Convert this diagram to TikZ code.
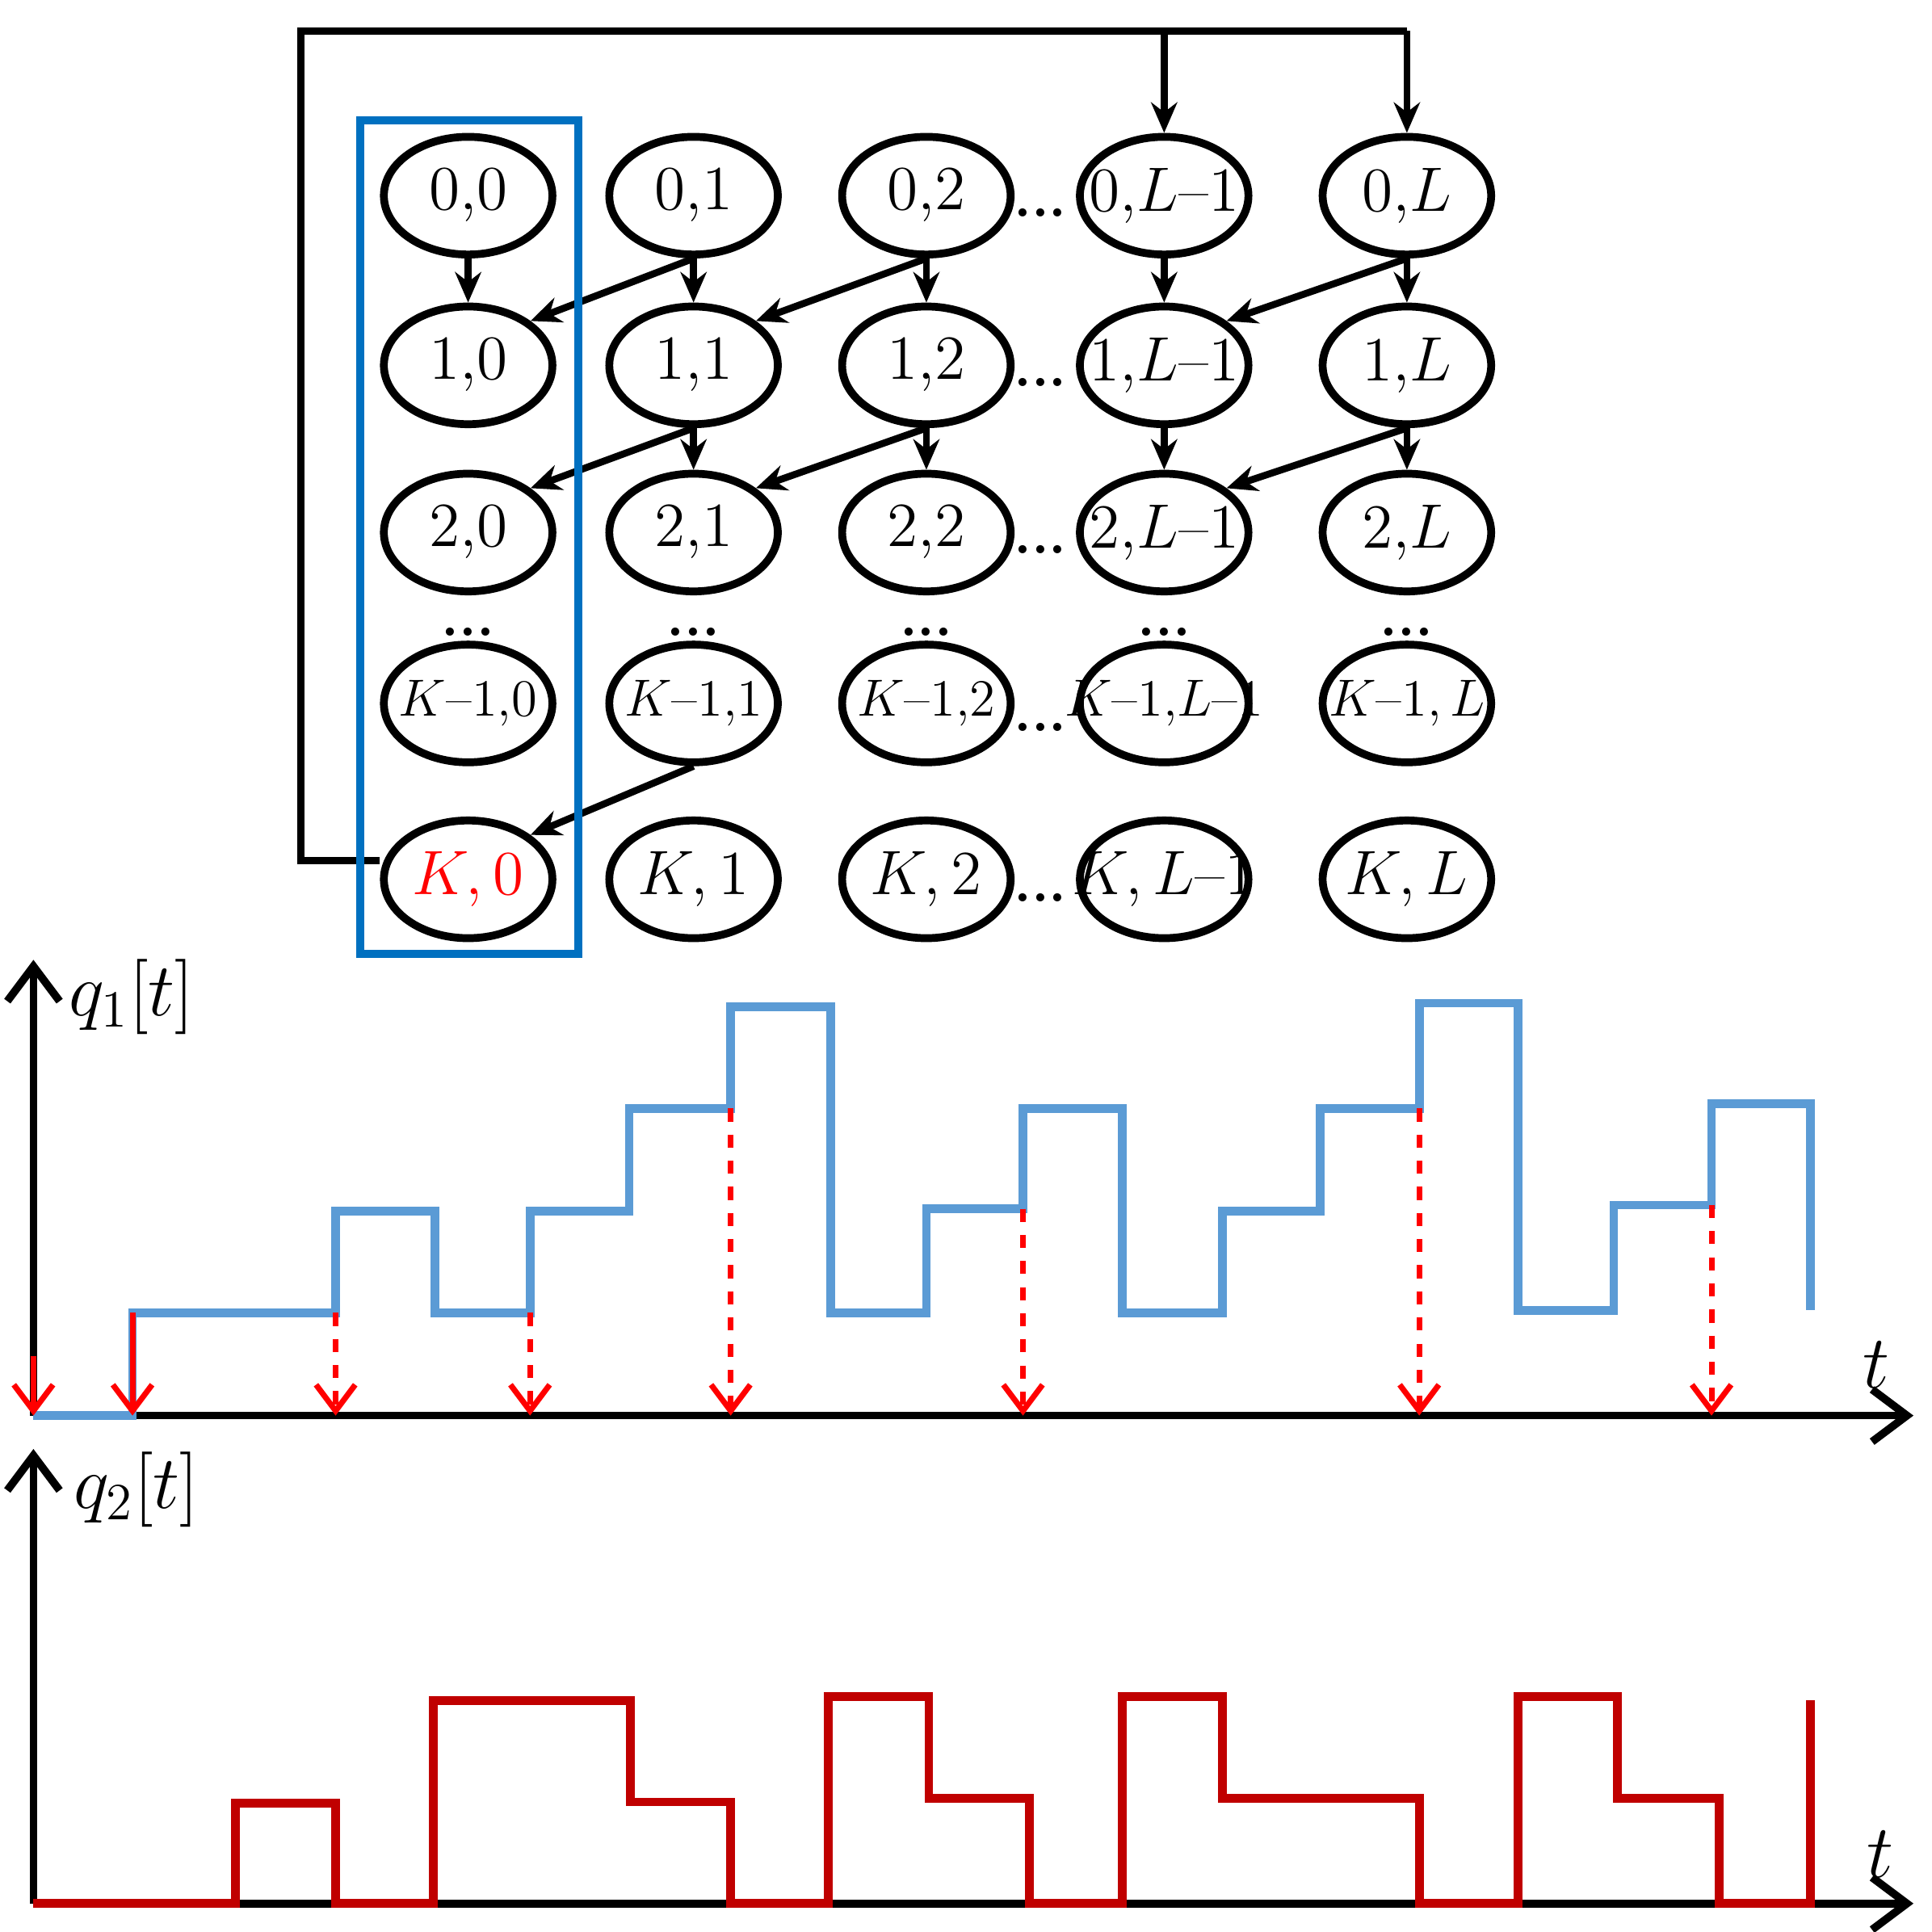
\documentclass[tikz,border=0pt]{standalone}
\usetikzlibrary{arrows.meta,shapes.geometric}
\begin{document}
\begin{tikzpicture}[x=0.01cm,y=-0.01cm,
 st/.style={draw,ellipse,line width=1.8pt,minimum width=1.36cm,minimum height=0.95cm,inner sep=0pt,font=\fontsize{14}{16}\selectfont},
 sm/.style={font=\fontsize{12}{14}\selectfont},
 ar/.style={line width=1.6pt,-{Stealth[length=7pt,width=6pt]}},
 dd/.style={font=\fontsize{13}{14}\selectfont\bfseries,inner sep=0pt},
 lb/.style={font=\fontsize{17}{20}\selectfont},
 rar/.style={red,line width=1.3pt,-{Straight Barb[length=6pt,width=9pt]}}]
\useasboundingbox (0,0) rectangle (1560,1560);
\def\cA{378}\def\cB{560}\def\cC{748}\def\cD{940}\def\cE{1136}
\newcommand\zl[1]{\makebox[0pt]{$#1$}}
\newcommand\mn{\mathord{\hbox{--}}}
\node[st] (n00) at (\cA,158) {\zl{0{,}0}};
\node[st] (n01) at (\cB,158) {\zl{0{,}1}};
\node[st] (n02) at (\cC,158) {\zl{0{,}2}};
\node[st] (n0l) at (\cD,158) {\zl{0{,}L\mn1}};
\node[st] (n0L) at (\cE,158) {\zl{0{,}L}};
\node[st] (n10) at (\cA,295) {\zl{1{,}0}};
\node[st] (n11) at (\cB,295) {\zl{1{,}1}};
\node[st] (n12) at (\cC,295) {\zl{1{,}2}};
\node[st] (n1l) at (\cD,295) {\zl{1{,}L\mn1}};
\node[st] (n1L) at (\cE,295) {\zl{1{,}L}};
\node[st] (n20) at (\cA,430) {\zl{2{,}0}};
\node[st] (n21) at (\cB,430) {\zl{2{,}1}};
\node[st] (n22) at (\cC,430) {\zl{2{,}2}};
\node[st] (n2l) at (\cD,430) {\zl{2{,}L\mn1}};
\node[st] (n2L) at (\cE,430) {\zl{2{,}L}};
\node[st,sm] (n30) at (\cA,568) {\zl{K\mn1{,}0}};
\node[st,sm] (n31) at (\cB,568) {\zl{K\mn1{,}1}};
\node[st,sm] (n32) at (\cC,568) {\zl{K\mn1{,}2}};
\node[st,sm] (n3l) at (\cD,568) {\zl{K\mn1{,}L\mn1}};
\node[st,sm] (n3L) at (\cE,568) {\zl{K\mn1{,}\,L}};
\node[st,text=red] (n40) at (\cA,710) {\zl{K,0}};
\node[st] (n41) at (\cB,710) {\zl{K,1}};
\node[st] (n42) at (\cC,710) {\zl{K,2}};
\node[st] (n4l) at (\cD,710) {\zl{K,L\mn1}};
\node[st] (n4L) at (\cE,710) {\zl{K,L}};
\foreach \y/\i in {172/a,309/b,444/c,587/d,725/e} \node[dd] (dh\i) at (840,\y) {...};
\foreach \x/\i in {\cA/a,\cB/b,\cC/c,\cD/d,\cE/e} \node[dd] (dv\i) at (\x,510) {...};
\foreach \a/\b in {n00/n10,n01/n11,n02/n12,n0l/n1l,n0L/n1L,n11/n21,n12/n22,n1l/n2l,n1L/n2L}
  \draw[ar] (\a.south) -- (\b.north);
\foreach \a/\b in {n01/n10,n02/n11,n0L/n1l,n11/n20,n12/n21,n1L/n2l,n31/n40}
  \draw[ar] (\a.south) -- (\b.north east);
\coordinate (fa) at (243,695); \coordinate (fb) at (243,25);
\coordinate (fc) at (\cE,25); \coordinate (fd) at (\cD,25);
\draw[line width=1.6pt] (n40.west|-fa) -- (fa) -- (fb) -- (fc);
\draw[ar] (fc) -- (n0L.north);
\draw[ar] (fd) -- (n0l.north);
\draw[line width=1.8pt,draw={rgb,255:red,0;green,112;blue,192}] (291,97) rectangle (467,770);
\coordinate (o1) at (27,1143);
\draw[line width=1.8pt,-{Straight Barb[length=8pt,width=12pt]}] (o1) -- (27,775) coordinate (y1);
\draw[line width=1.8pt,-{Straight Barb[length=8pt,width=12pt]}] (o1) -- (1545,1143) coordinate (x1);
\node[lb] (q1) at (106,805) {$q_1[t]$};
\node[lb] (t1) at (1515,1102) {$t$};
\draw[line width=2pt,draw={rgb,255:red,91;green,155;blue,213}] (o1) -- (107,1143) -- (107,1060) -- (271,1060) -- (271,978) -- (351,978) -- (351,1060) -- (428,1060) -- (428,978) -- (508,978) -- (508,895) -- (590,895) -- (590,813) -- (671,813) -- (671,1060) -- (748,1060) -- (748,976) -- (826,976) -- (826,895) -- (906,895) -- (906,1060) -- (987,1060) -- (987,978) -- (1066,978) -- (1066,895) -- (1146,895) -- (1146,810) -- (1226,810) -- (1226,1058) -- (1303,1058) -- (1303,973) -- (1382,973) -- (1382,891) -- (1462,891) -- (1462,1058);
\draw[rar] (27,1095) -- (27,1143);
\draw[rar] (107,1060) -- (107,1143);
\foreach \x/\y in {271/1060,428/1060,590/895,826/976,1146/895,1382/973}
  \draw[rar,dashed] (\x,\y) -- (\x,1143);
\coordinate (o2) at (27,1537);
\draw[line width=1.8pt,-{Straight Barb[length=8pt,width=12pt]}] (o2) -- (27,1170) coordinate (y2);
\draw[line width=1.8pt,-{Straight Barb[length=8pt,width=12pt]}] (o2) -- (1545,1537) coordinate (x2);
\node[lb] (q2) at (110,1203) {$q_2[t]$};
\node[lb] (t2) at (1518,1497) {$t$};
\draw[line width=2pt,draw={rgb,255:red,192;green,0;blue,0}] (o2) -- (190,1537) -- (190,1456) -- (271,1456) -- (271,1537) -- (350,1537) -- (350,1373) -- (509,1373) -- (509,1455) -- (590,1455) -- (590,1537) -- (669,1537) -- (669,1370) -- (750,1370) -- (750,1452) -- (831,1452) -- (831,1537) -- (906,1537) -- (906,1370) -- (987,1370) -- (987,1452) -- (1146,1452) -- (1146,1537) -- (1226,1537) -- (1226,1370) -- (1306,1370) -- (1306,1452) -- (1388,1452) -- (1388,1537) -- (1462,1537) -- (1462,1373);
\end{tikzpicture}
\end{document}
